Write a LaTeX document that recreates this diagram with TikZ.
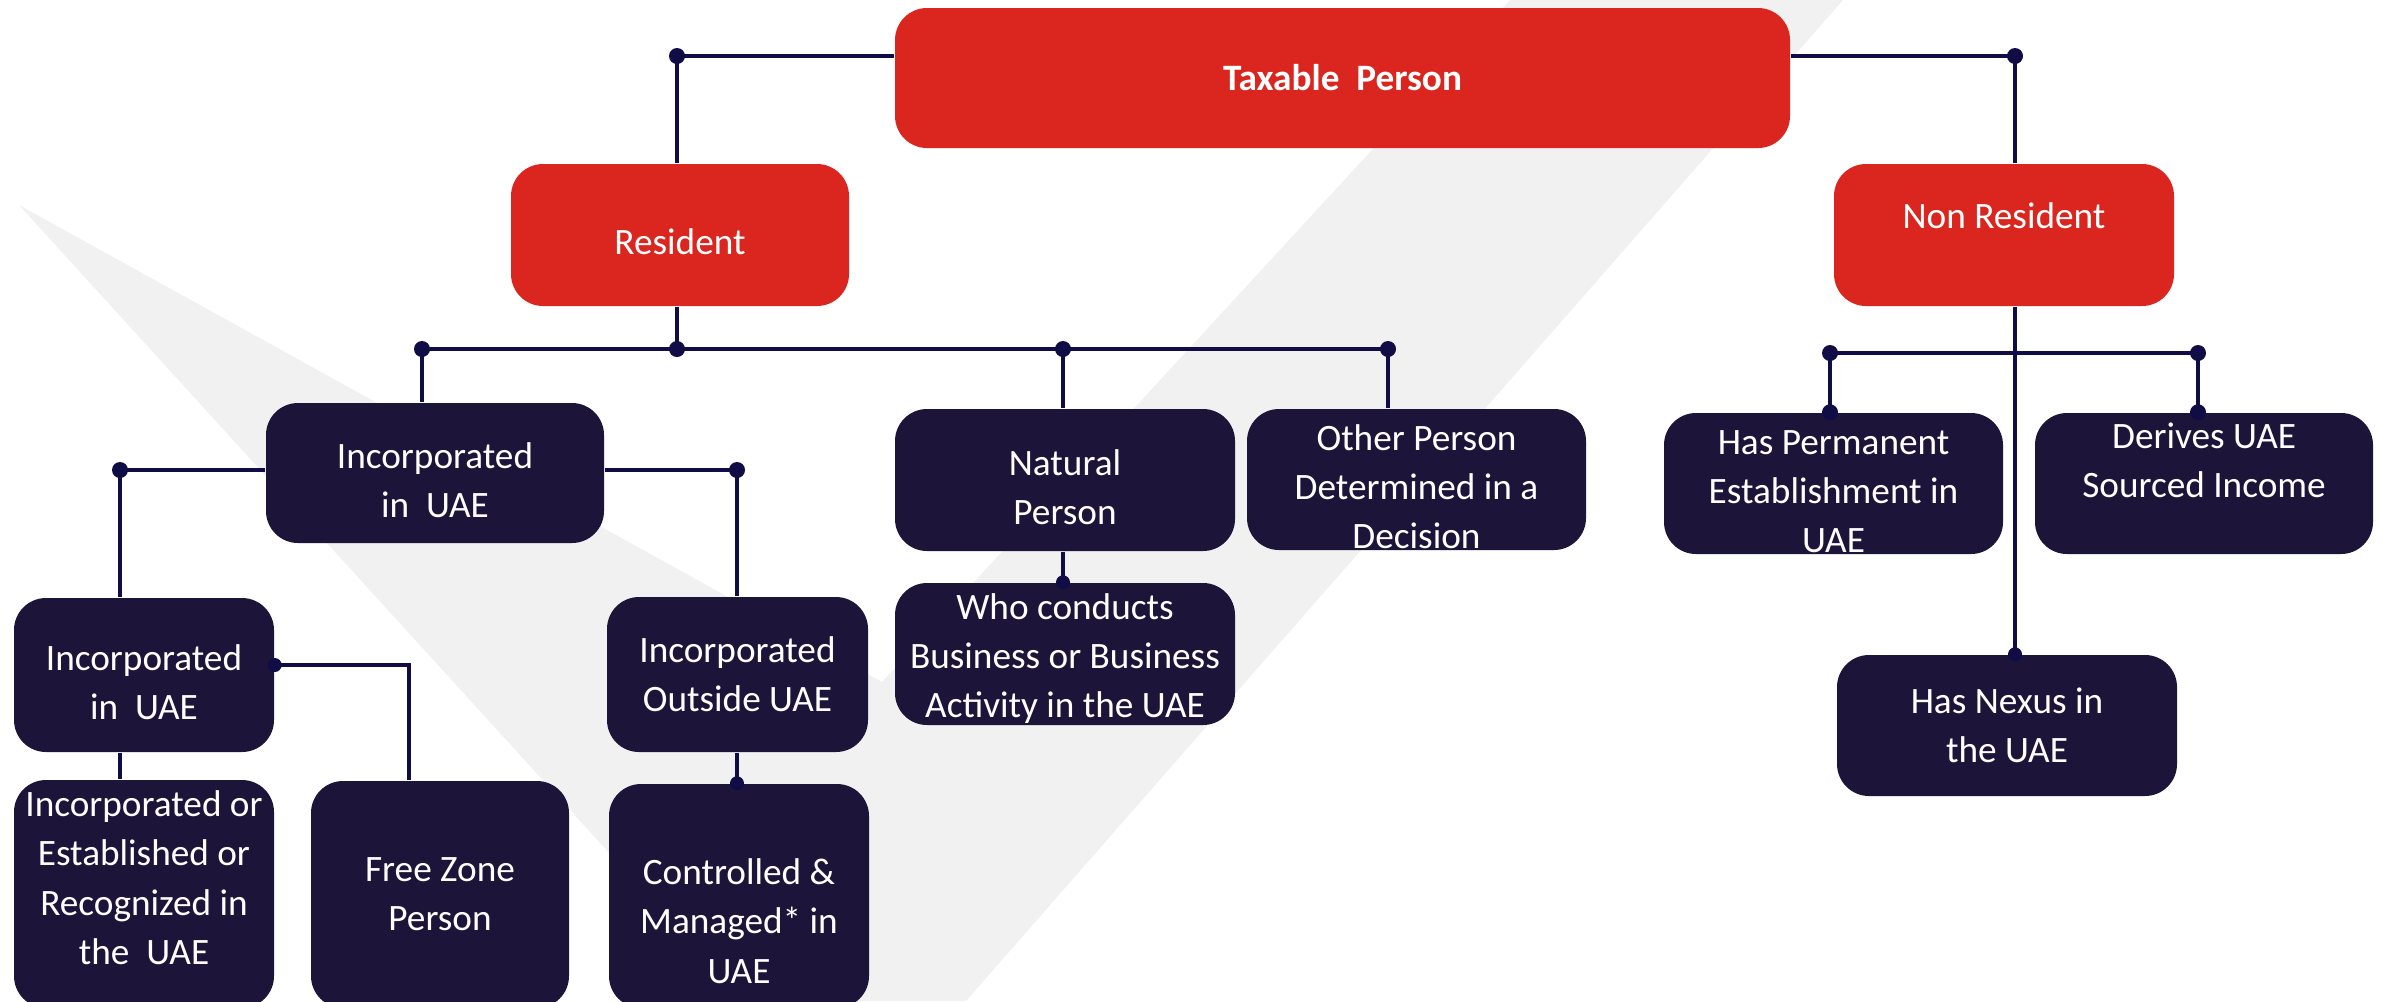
\documentclass[tikz,border=0pt]{standalone}
\usepackage{fontspec}
\setmainfont{Carlito}
\usetikzlibrary{positioning,calc}
\definecolor{TaxRed}{HTML}{DA261E}
\definecolor{TaxNavy}{HTML}{1C1539}
\definecolor{TaxLine}{HTML}{100C45}
\definecolor{TaxGray}{HTML}{F1F1F1}
% strut that sets a first line a little lower
\newcommand{\lowstrut}{\rule{0pt}{0.40cm}}
\tikzset{
    % Base node style
    basenode/.style={
        rounded corners=0.32cm,
        inner sep=0pt,
        align=center,
        text=white,
        font=\fontsize{10.6}{14}\selectfont
    },
    % Top levels (red)
    rednode/.style={
        basenode,
        fill=TaxRed
    },
    % Category boxes (navy)
    navynode/.style={
        basenode,
        fill=TaxNavy
    },
    % Connector lines
    linkline/.style={
        draw=TaxLine,
        line width=1.4pt
    }
}

\begin{document}
\begin{tikzpicture}
    \useasboundingbox (0,0) rectangle (23.87,-10.01);
    % background check mark
    \fill[TaxGray] (0.19,-2.05) -- (8.82,-6.82) -- (15.10,0) -- (18.43,0)
        -- (9.66,-10.01) -- (7.44,-10.01) -- cycle;

    \node[rednode, font=\fontsize{10.6}{14}\selectfont\bfseries, minimum width=8.95cm, minimum height=1.40cm] (taxable) at (13.425,-0.78) {Taxable\ \ Person};
    \node[rednode, minimum width=3.38cm, minimum height=1.42cm] (resident) at (6.80,-2.35) {\lowstrut Resident};
    \node[rednode, minimum width=3.40cm, minimum height=1.42cm] (nonres) at (20.04,-2.35) {\lowstrut Non Resident\\[-0.1cm]\strut};

    \node[navynode, minimum width=3.38cm, minimum height=1.40cm] (inc1) at (4.35,-4.73) {\lowstrut Incorporated\\in\ \ UAE};
    \node[navynode, minimum width=3.40cm, minimum height=1.42cm] (natural) at (10.65,-4.80) {\lowstrut Natural\\Person};
    \node[navynode, minimum width=3.39cm, minimum height=1.41cm] (other) at (14.165,-4.795) {\lowstrut Other Person\\Determined in a\\Decision};
    \node[navynode, minimum width=3.40cm, minimum height=1.42cm] (who) at (10.65,-6.54) {\rule{0pt}{0.35cm}Who conducts\\Business or Business\\Activity in the UAE};

    \node[navynode, minimum width=2.60cm, minimum height=1.54cm] (inc2) at (1.44,-6.75) {\lowstrut Incorporated\\in\ \ UAE};
    \node[navynode, minimum width=2.61cm, minimum height=1.55cm] (outside) at (7.375,-6.745) {Incorporated\\Outside UAE};
    \node[navynode, minimum width=2.60cm, minimum height=2.28cm] (incest) at (1.44,-8.94) {Incorporated or\\Established or\\Recognized in\\the\ \ UAE\rule[-0.33cm]{0pt}{0pt}};
    \node[navynode, minimum width=2.58cm, minimum height=2.27cm] (freezone) at (4.40,-8.945) {Free Zone\\Person};
    \node[navynode, minimum width=2.60cm, minimum height=2.24cm] (controlled) at (7.39,-8.96) {\rule{0pt}{0.76cm}Controlled \&\\Managed* in\\UAE};

    \node[navynode, minimum width=3.39cm, minimum height=1.41cm] (perm) at (18.335,-4.835) {\lowstrut Has Permanent\\Establishment in\\UAE};
    \node[navynode, minimum width=3.38cm, minimum height=1.41cm] (derives) at (22.04,-4.835) {Derives UAE\\Sourced Income\rule[-0.46cm]{0pt}{0pt}};
    \node[navynode, minimum width=3.40cm, minimum height=1.41cm] (nexus) at (20.07,-7.255) {Has Nexus in\\the UAE};

    % junction points
    \coordinate (tl) at (6.77,-0.56);
    \coordinate (tr) at (20.15,-0.56);
    \coordinate (rbus) at (6.77,-3.49);
    \coordinate (r1) at (4.22,-3.49);
    \coordinate (r2) at (10.63,-3.49);
    \coordinate (r3) at (13.88,-3.49);
    \coordinate (il) at (1.20,-4.70);
    \coordinate (ir) at (7.37,-4.70);
    \coordinate (fz) at (4.09,-6.65);
    \coordinate (nl) at (18.30,-3.53);
    \coordinate (nr) at (21.98,-3.53);

    \draw[linkline] (taxable.west |- tl) -- (tl) -- (tl |- resident.north);
    \draw[linkline] (taxable.east |- tr) -- (tr) -- (tr |- nonres.north);
    \draw[linkline] (rbus |- resident.south) -- (rbus);
    \draw[linkline] (r1) -- (r3);
    \draw[linkline] (r1) -- (r1 |- inc1.north);
    \draw[linkline] (r2) -- (r2 |- natural.north);
    \draw[linkline] (r3) -- (r3 |- other.north);
    \draw[linkline] (inc1.west |- il) -- (il) -- (il |- inc2.north);
    \draw[linkline] (inc1.east |- ir) -- (ir) -- (ir |- outside.north);
    \draw[linkline] (il |- inc2.south) -- (il |- incest.north);
    \draw[linkline] (inc2.east |- fz) -- (fz) -- (fz |- freezone.north);
    \draw[linkline] (ir |- outside.south) -- (ir |- controlled.north);
    \draw[linkline] (r2 |- natural.south) -- (r2 |- who.north);
    \draw[linkline] (tr |- nonres.south) -- (tr |- nexus.north);
    \draw[linkline] (nl) -- (nr);
    \draw[linkline] (nl) -- (nl |- perm.north);
    \draw[linkline] (nr) -- (nr |- derives.north);

    % dots
    \foreach \p in {tl,tr,rbus,r1,r2,r3,il,ir,nl,nr}
        \fill[TaxLine] (\p) circle (0.08);
    \fill[TaxLine] (nl |- perm.north) circle (0.08);
    \fill[TaxLine] (nr |- derives.north) circle (0.08);
    \fill[TaxLine] (inc2.east |- fz) circle (0.07);
    \fill[TaxLine] (ir |- controlled.north) circle (0.07);
    \fill[TaxLine] (r2 |- who.north) circle (0.07);
    \fill[TaxLine] (tr |- nexus.north) circle (0.07);
\end{tikzpicture}
\end{document}
